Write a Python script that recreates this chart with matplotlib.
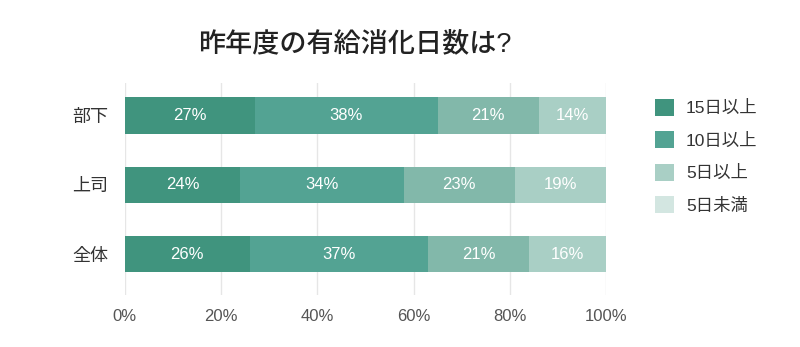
import matplotlib
matplotlib.use("Agg")
import matplotlib.pyplot as plt
from matplotlib.patches import Patch

plt.rcParams["font.family"] = ["Liberation Sans", "Noto Sans CJK JP"]

categories = ["部下", "上司", "全体"]
series_names = ["15日以上", "10日以上", "5日以上", "5日未満"]
values = [
    [27, 24, 26],
    [38, 34, 37],
    [21, 23, 21],
    [14, 19, 16],
]
bar_colors = ["#40947e", "#53a393", "#82b8aa", "#a9cfc5"]
legend_colors = ["#40947e", "#53a393", "#a9cfc5", "#d3e6e1"]
xticks = [0, 20, 40, 60, 80, 100]

fig = plt.figure(figsize=(8, 3.47), dpi=100)
ax = fig.add_axes([0.156, 0.15, 0.6015, 0.611])

ypos = list(range(len(categories)))
left = [0] * len(categories)
for vals, col in zip(values, bar_colors):
    ax.barh(ypos, vals, left=left, height=0.52, color=col, zorder=2)
    for y, l, v in zip(ypos, left, vals):
        ax.text(l + v / 2, y, f"{v}%", ha="center", va="center",
                color="white", fontsize=12, zorder=3)
    left = [l + v for l, v in zip(left, vals)]

ax.set_xlim(0, 100)
ax.set_ylim(2.59, -0.47)
ax.set_yticks(ypos)
ax.set_yticklabels(categories, fontsize=13, color="#333333")
ax.set_xticks(xticks)
ax.set_xticklabels([f"{t}%" for t in xticks], fontsize=12, color="#555555")
ax.tick_params(length=0, pad=10)
ax.tick_params(axis="y", pad=12)
ax.grid(axis="x", color="#e6e6e6", linewidth=1, zorder=0)
for s in ax.spines.values():
    s.set_visible(False)

fig.text(0.443, 0.873, "昨年度の有給消化日数は?", ha="center", va="center",
         fontsize=19.5, fontweight="medium", color="#222222")

handles = [Patch(facecolor=c, edgecolor="none") for c in legend_colors]
fig.legend(handles, series_names, loc="upper left", bbox_to_anchor=(0.799, 0.76),
           frameon=False, fontsize=12.5, handlelength=1.1, handleheight=1.1,
           labelspacing=0.88, handletextpad=0.7, labelcolor="#333333")

fig.savefig("out.png", dpi=100)
